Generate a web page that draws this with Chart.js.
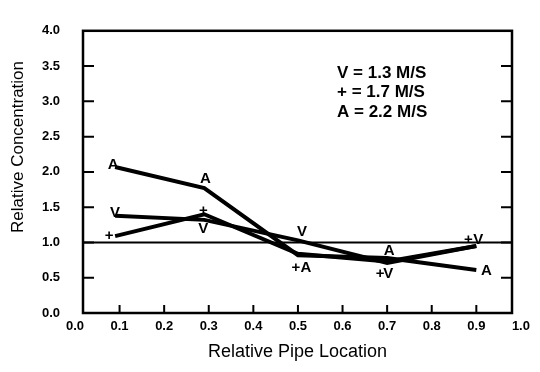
<!DOCTYPE html>
<html><head><meta charset="utf-8">
<script src="https://cdn.jsdelivr.net/npm/chart.js@4/dist/chart.umd.min.js"></script>
<style>html,body{margin:0;padding:0;background:#fff}canvas{display:block}</style>
</head><body>
<canvas id="c" width="540" height="372"></canvas>
<script>
// ---- data ----
const locations = [0.09, 0.29, 0.5, 0.7, 0.9];
const seriesNames = ['V = 1.3 M/S', '+ = 1.7 M/S', 'A = 2.2 M/S'];
const seriesSymbols = ['V', '+', 'A'];
const conc13 = [1.38, 1.32, 1.03, 0.71, 0.95];
const conc17 = [1.09, 1.40, 0.84, 0.73, 0.95];
const conc22 = [2.07, 1.77, 0.82, 0.78, 0.61];
const xTickValues = [0.0, 0.1, 0.2, 0.3, 0.4, 0.5, 0.6, 0.7, 0.8, 0.9, 1.0];
const yTickValues = [0.0, 0.5, 1.0, 1.5, 2.0, 2.5, 3.0, 3.5, 4.0];
const referenceLevel = 1.0;
const xTitle = 'Relative Pipe Location';
const yTitle = 'Relative Concentration';

// ---- style: pixel offsets of the letter markers from their points ----
const symbolOffsets = [
  [[0,-3],[-1,9],[4,-8],[1,11],[2,-6]],
  [[-6,0],[-1,-3],[-2,14],[-7,12],[-8,-6]],
  [[-2,-2],[1,-9],[8,13],[2,-7],[10,1]]
];
const FONT = '"Liberation Sans", Arial, Helvetica, sans-serif';

const allSeries = [conc13, conc17, conc22];
const datasets = allSeries.map((vals, i) => ({
  label: seriesNames[i],
  data: locations.map((x, j) => ({x: x, y: vals[j]})),
  borderColor: '#000',
  borderWidth: 4,
  pointRadius: 0,
  pointHoverRadius: 0,
  tension: 0,
  fill: false
}));

const framePlugin = {
  id: 'frame',
  beforeDatasetsDraw(chart) {
    const {ctx, chartArea: a, scales: {x, y}} = chart;
    ctx.save();
    ctx.strokeStyle = '#000';
    ctx.lineCap = 'butt';
    // reference line
    ctx.lineWidth = 2;
    const ry = y.getPixelForValue(referenceLevel);
    ctx.beginPath(); ctx.moveTo(a.left, ry); ctx.lineTo(a.right, ry); ctx.stroke();
    // frame
    ctx.lineWidth = 2.5;
    ctx.strokeRect(a.left, a.top, a.right - a.left, a.bottom - a.top);
    // inward ticks
    ctx.lineWidth = 2;
    ctx.beginPath();
    yTickValues.forEach(v => {
      if (v <= y.min || v >= y.max) return;
      const py = y.getPixelForValue(v);
      ctx.moveTo(a.left, py); ctx.lineTo(a.left + 11, py);
      ctx.moveTo(a.right, py); ctx.lineTo(a.right - 11, py);
    });
    xTickValues.forEach(v => {
      if (v <= x.min || v >= x.max) return;
      const px = x.getPixelForValue(v);
      ctx.moveTo(px, a.bottom); ctx.lineTo(px, a.bottom - 8);
    });
    ctx.stroke();
    // y axis title
    ctx.save();
    ctx.fillStyle = '#000';
    ctx.font = '17px ' + FONT;
    ctx.textAlign = 'center';
    ctx.textBaseline = 'middle';
    ctx.translate(18, 147);
    ctx.rotate(-Math.PI / 2);
    ctx.fillText(yTitle, 0, 0);
    ctx.restore();
    ctx.restore();
  },
  afterDatasetsDraw(chart) {
    const {ctx} = chart;
    ctx.save();
    ctx.fillStyle = '#000';
    ctx.textAlign = 'center';
    ctx.textBaseline = 'middle';
    ctx.font = 'bold 15px ' + FONT;
    chart.data.datasets.forEach((ds, i) => {
      const meta = chart.getDatasetMeta(i);
      meta.data.forEach((pt, j) => {
        const off = symbolOffsets[i][j];
        ctx.fillText(seriesSymbols[i], pt.x + off[0], pt.y + off[1]);
      });
    });
    // legend text
    ctx.textAlign = 'left';
    ctx.font = 'bold 17px ' + FONT;
    chart.data.datasets.forEach((ds, i) => {
      ctx.fillText(ds.label, 337, 73 + i * 19.5);
    });
    ctx.restore();
  }
};

new Chart(document.getElementById('c'), {
  type: 'line',
  data: {datasets},
  options: {
    responsive: false,
    animation: false,
    devicePixelRatio: 1,
    layout: {padding: {left: 0, top: 17, right: 28, bottom: 0}},
    plugins: {legend: {display: false}, tooltip: {enabled: false}},
    scales: {
      x: {
        type: 'linear',
        min: 0.018,
        max: 0.98,
        afterBuildTicks(scale) { scale.ticks = xTickValues.map(v => ({value: v})); },
        afterFit(scale) { scale.height = 59; },
        grid: {display: false, drawTicks: false},
        border: {display: false},
        ticks: {
          autoSkip: false,
          maxRotation: 0,
          padding: 6,
          color: '#000',
          font: {family: FONT, size: 13, weight: 'bold'},
          callback: v => Number(v).toFixed(1)
        },
        title: {
          display: true,
          text: xTitle,
          color: '#000',
          font: {family: FONT, size: 18},
          padding: {top: 0, bottom: 9}
        }
      },
      y: {
        type: 'linear',
        min: 0,
        max: 4,
        afterBuildTicks(scale) { scale.ticks = yTickValues.map(v => ({value: v})); },
        afterFit(scale) { scale.width = 83; },
        grid: {display: false, drawTicks: false},
        border: {display: false},
        ticks: {
          autoSkip: false,
          padding: 23,
          color: '#000',
          font: {family: FONT, size: 13, weight: 'bold'},
          callback: v => Number(v).toFixed(1)
        },
        title: {display: false}
      }
    }
  },
  plugins: [framePlugin]
});
</script>
</body></html>
